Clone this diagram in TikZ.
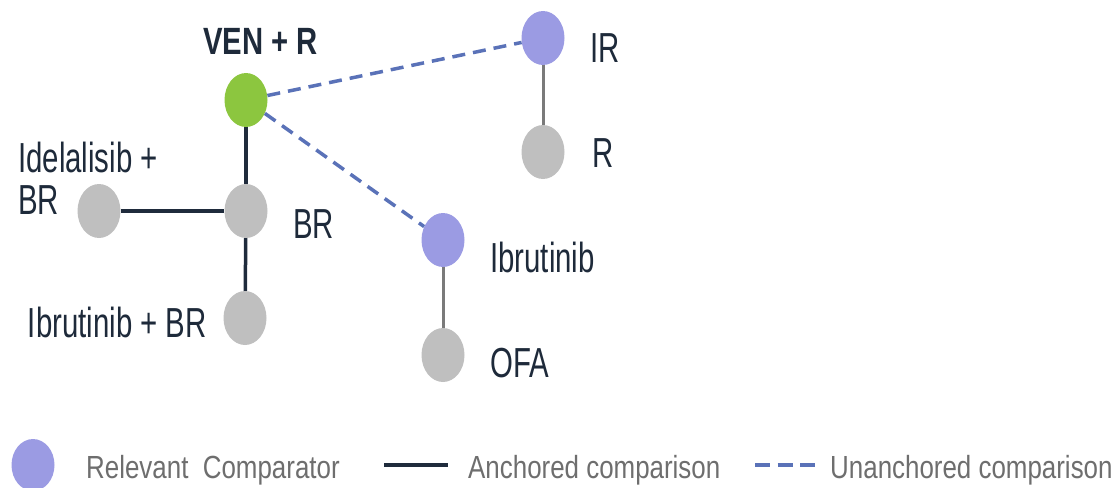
\documentclass[tikz,border=0pt]{standalone}
\usepackage{fontspec}
\usetikzlibrary{shapes.geometric}
\newfontfamily\labfont[FakeStretch=0.70]{Liberation Sans}
\newfontfamily\labbfont[FakeStretch=0.77]{Liberation Sans}
\newfontfamily\legfont[FakeStretch=0.81]{Liberation Sans}
\definecolor{vgreen}{HTML}{8CC63F}
\definecolor{cpurple}{HTML}{9B9BE3}
\definecolor{cgray}{HTML}{BFBFBF}
\definecolor{navy}{HTML}{1F2B3C}
\definecolor{lgray}{HTML}{7A7A7A}
\definecolor{dblue}{HTML}{5A72B8}
\definecolor{txt}{HTML}{1E2A3A}
\definecolor{legtxt}{HTML}{6E6E6E}
\tikzset{
  dot/.style={ellipse, inner sep=0pt, minimum width=43pt, minimum height=54pt, draw=none},
  vdot/.style={dot, fill=vgreen},
  pdot/.style={dot, fill=cpurple},
  gdot/.style={dot, fill=cgray},
  anch/.style={draw=navy, line width=3.5pt},
  anchg/.style={draw=lgray, line width=3pt},
  unanch/.style={draw=dblue, line width=3.5pt, dash pattern=on 13pt off 8pt},
  lab/.style={inner sep=0pt, text=txt, font=\labfont\fontsize{42}{41}\selectfont},
  labb/.style={inner sep=0pt, text=txt, font=\labbfont\bfseries\fontsize{38}{40}\selectfont},
  leg/.style={inner sep=0pt, text=legtxt, font=\legfont\fontsize{32}{34}\selectfont, anchor=base west},
}
\begin{document}
\begin{tikzpicture}[x=1pt,y=-1pt]
\useasboundingbox (0,0) rectangle (1115,487);
% nodes
\node[vdot] (ven) at (246,100) {};
\node[gdot] (br) at (246,211) {};
\node[gdot] (idel) at (99,211) {};
\node[gdot] (ibrbr) at (245,318) {};
\node[pdot] (ir) at (543,38) {};
\node[gdot] (r) at (543,152) {};
\node[pdot] (ibr) at (443,240) {};
\node[gdot] (ofa) at (443,355) {};
% connectors
\draw[anch] (ven) -- (br);
\draw[anch] (idel) -- (br);
\draw[anch] (br) -- (ibrbr);
\draw[anchg] (ir) -- (r);
\draw[anchg] (ibr) -- (ofa);
\draw[unanch] (ven) -- (ir);
\draw[unanch] (ven) -- (ibr);
% labels
\node[labb, anchor=base west] (tven) at (203,55) {VEN + R};
\node[lab, anchor=base west] (tidel1) at (18,172) {Idelalisib +};
\node[lab, anchor=base west] (tidel2) at (18,214) {BR};
\node[lab, anchor=base west] (tbr) at (293,238) {BR};
\node[lab, anchor=base east] (tibrbr) at (207,337) {Ibrutinib + BR};
\node[lab, anchor=base west] (tir) at (590,63) {IR};
\node[lab, anchor=base west] (tr) at (592,167) {R};
\node[lab, anchor=base west] (tibr) at (490,272) {Ibrutinib};
\node[lab, anchor=base west] (tofa) at (490,377) {OFA};
% legend
\node[pdot, minimum width=43pt, minimum height=52pt] (lgdot) at (33,465) {};
\node[leg] (lg1) at (86,478) {Relevant\ \ Comparator};
\coordinate (la1) at (384,465);
\coordinate (la2) at (448,465);
\draw[anch] (la1) -- (la2);
\node[leg] (lg2) at (468,478) {Anchored comparison};
\coordinate (lu1) at (755,465);
\coordinate (lu2) at (815,465);
\draw[unanch, dash pattern=on 15pt off 7.5pt] (lu1) -- (lu2);
\node[leg] (lg3) at (830,478) {Unanchored comparison};
\end{tikzpicture}
\end{document}
